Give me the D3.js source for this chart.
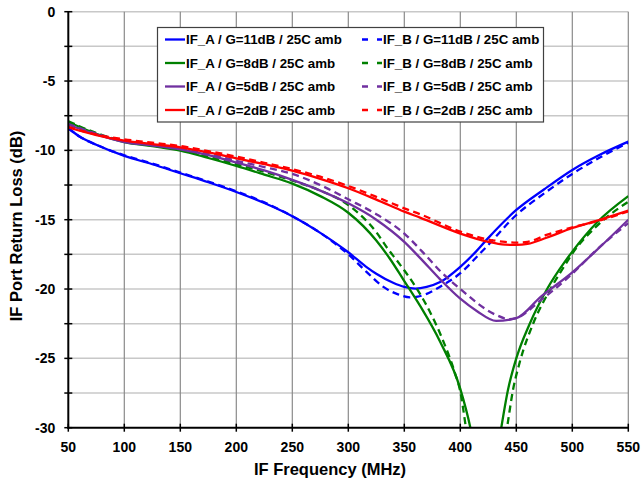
<!DOCTYPE html>
<html>
<head>
<meta charset="utf-8">
<script src="https://cdn.jsdelivr.net/npm/d3@7"></script>
<style>
  html, body { margin: 0; padding: 0; background: #ffffff; }
  svg { display: block; font-family: "Liberation Sans", Arial, sans-serif; }
</style>
</head>
<body>
<svg id="chart" width="641" height="485"></svg>
<script>
// ---------- data ----------
const xTicks = [50, 100, 150, 200, 250, 300, 350, 400, 450, 500, 550];
const yTickLabels = [0, -5, -10, -15, -20, -25, -30];
const yMinorTicks = [0, -2.5, -5, -7.5, -10, -12.5, -15, -17.5, -20, -22.5, -25, -27.5, -30];

const seriesNames = [
  "IF_A / G=11dB / 25C amb", "IF_B / G=11dB / 25C amb",
  "IF_A / G=8dB / 25C amb",  "IF_B / G=8dB / 25C amb",
  "IF_A / G=5dB / 25C amb",  "IF_B / G=5dB / 25C amb",
  "IF_A / G=2dB / 25C amb",  "IF_B / G=2dB / 25C amb"
];
const seriesColors = ["#0000FF", "#0000FF", "#008000", "#008000", "#7030A0", "#7030A0", "#FF0000", "#FF0000"];
const seriesDashed = [false, true, false, true, false, true, false, true];

const fA11 = [50, 60, 75, 100, 125, 150, 175, 200, 225, 250, 275, 300, 316, 325, 340, 350, 360, 370, 382, 400, 414, 424, 450, 475, 500, 525, 550];
const rA11 = [-8.4, -9.0, -9.6, -10.4, -11.0, -11.65, -12.3, -13.0, -13.8, -14.75, -15.95, -17.35, -18.4, -18.9, -19.55, -19.85, -19.97, -19.85, -19.5, -18.4, -17.3, -16.4, -14.3, -12.8, -11.41, -10.3, -9.37];

const fB11 = [50, 60, 75, 100, 125, 150, 175, 200, 225, 250, 275, 300, 316, 331, 345, 355, 362, 370, 382, 400, 418, 424, 450, 475, 500, 525, 550];
const rB11 = [-8.4, -9.0, -9.6, -10.35, -10.95, -11.6, -12.25, -12.95, -13.75, -14.75, -15.95, -17.5, -18.74, -19.83, -20.4, -20.6, -20.55, -20.35, -19.83, -18.86, -17.4, -16.9, -14.66, -13.1, -11.7, -10.5, -9.45];

const fA8 = [50, 75, 100, 125, 150, 175, 200, 225, 250, 275, 300, 325, 337, 349, 364, 382, 400, 409, 416, 423, 430, 436.6, 442.5, 450, 462, 477, 494.5, 500, 522, 550];
const rA8 = [-7.95, -8.8, -9.4, -9.7, -10.02, -10.55, -11.12, -11.75, -12.4, -13.3, -14.5, -16.5, -17.8, -19.3, -21.2, -23.8, -27.2, -30, -33, -36, -33.5, -30, -27.3, -25, -22.5, -20.07, -17.9, -17.3, -15.2, -13.3];

const fB8 = [50, 75, 100, 125, 150, 175, 200, 225, 248, 275, 300, 325, 336, 343, 360, 370, 385, 395, 400, 405, 412, 423, 433, 441.7, 447, 453, 465, 480, 496.4, 500, 522, 550];
const rB8 = [-7.9, -8.75, -9.35, -9.65, -9.95, -10.45, -11.0, -11.55, -12.13, -12.9, -13.94, -15.9, -17.18, -17.9, -19.83, -21.2, -23.8, -26.0, -27.4, -30, -34.5, -38, -34, -30, -27.3, -25.3, -22.5, -20.07, -17.9, -17.45, -15.45, -13.7];

const fA5 = [50, 75, 100, 125, 150, 175, 200, 225, 250, 275, 300, 325, 350, 364, 382, 400, 415, 432, 450, 472, 500, 522, 550];
const rA5 = [-8.15, -8.85, -9.4, -9.65, -9.93, -10.35, -10.88, -11.45, -12.13, -12.9, -13.82, -15.0, -16.6, -17.75, -19.3, -20.7, -21.6, -22.3, -22.1, -20.55, -18.8, -17.18, -15.0];

const fB5 = [50, 75, 100, 125, 150, 175, 200, 225, 248, 275, 300, 325, 350, 366, 382, 400, 432, 444, 450, 472, 500, 520, 550];
const rB5 = [-8.1, -8.8, -9.35, -9.6, -9.85, -10.25, -10.75, -11.2, -11.65, -12.5, -13.53, -14.6, -16.0, -17.3, -18.7, -20.0, -21.87, -22.18, -22.1, -20.8, -18.9, -17.3, -15.25];

const fA2 = [50, 75, 100, 125, 150, 175, 200, 225, 250, 275, 300, 325, 350, 364, 400, 424, 440, 450, 460, 477, 500, 525, 550];
const rA2 = [-8.35, -8.9, -9.3, -9.55, -9.78, -10.15, -10.57, -11.0, -11.46, -12.05, -12.73, -13.55, -14.42, -14.85, -16.0, -16.58, -16.8, -16.82, -16.75, -16.3, -15.6, -15.0, -14.35];

const fB2 = [50, 75, 100, 125, 150, 175, 200, 225, 250, 275, 300, 325, 350, 364, 400, 424, 440, 450, 460, 477, 500, 525, 550];
const rB2 = [-8.3, -8.85, -9.2, -9.45, -9.69, -10.05, -10.45, -10.9, -11.35, -11.9, -12.57, -13.35, -14.18, -14.6, -15.86, -16.41, -16.6, -16.65, -16.6, -16.1, -15.55, -15.05, -14.4];

const seriesFreq = [fA11, fB11, fA8, fB8, fA5, fB5, fA2, fB2];
const seriesRL = [rA11, rB11, rA8, rB8, rA5, rB5, rA2, rB2];

// ---------- layout ----------
const svg = d3.select("#chart");
const plot = { left: 68.3, right: 628.3, top: 11.7, bottom: 427.7 };

const x = d3.scaleLinear().domain([50, 550]).range([plot.left, plot.right]);
const y = d3.scaleLinear().domain([-30, 0]).range([plot.bottom, plot.top]);

svg.append("rect").attr("x", 0).attr("y", 0).attr("width", 641).attr("height", 485).attr("fill", "#fff");

// horizontal gridlines (light)
svg.append("g").selectAll("line").data(yMinorTicks.filter(d => d > -30)).join("line")
  .attr("x1", plot.left).attr("x2", plot.right)
  .attr("y1", d => y(d)).attr("y2", d => y(d))
  .attr("stroke", "#c8c8c8").attr("stroke-width", 1.5);

// vertical gridlines (darker)
svg.append("g").selectAll("line").data(xTicks.filter(d => d > 50)).join("line")
  .attr("x1", d => x(d)).attr("x2", d => x(d))
  .attr("y1", plot.top).attr("y2", plot.bottom)
  .attr("stroke", "#8a8a8a").attr("stroke-width", 1.2);

// clip
svg.append("defs").append("clipPath").attr("id", "clip")
  .append("rect").attr("x", plot.left).attr("y", plot.top)
  .attr("width", plot.right - plot.left).attr("height", plot.bottom - plot.top);

const line = d3.line().x(d => x(d[0])).y(d => y(d[1])).curve(d3.curveMonotoneX);

const gLines = svg.append("g").attr("clip-path", "url(#clip)");
seriesNames.forEach((name, i) => {
  const pts = seriesFreq[i].map((f, j) => [f, seriesRL[i][j]]);
  gLines.append("path").datum(pts)
    .attr("d", line)
    .attr("fill", "none")
    .attr("stroke", seriesColors[i])
    .attr("stroke-width", 2.3)
    .attr("stroke-dasharray", seriesDashed[i] ? "7,4.5" : null);
});

// Y axis
svg.append("line").attr("x1", plot.left).attr("x2", plot.left).attr("y1", plot.top).attr("y2", plot.bottom + 1)
  .attr("stroke", "#000").attr("stroke-width", 2);
svg.append("g").selectAll("line").data(yMinorTicks).join("line")
  .attr("x1", plot.left - 4).attr("x2", plot.left + 4)
  .attr("y1", d => y(d)).attr("y2", d => y(d))
  .attr("stroke", "#000").attr("stroke-width", 1.5);
svg.append("g").selectAll("text").data(yTickLabels).join("text")
  .attr("x", plot.left - 13).attr("y", d => y(d) + 5)
  .attr("text-anchor", "end")
  .attr("font-size", 14).attr("font-weight", "bold")
  .text(d => d === 0 ? "0" : "-" + Math.abs(d));

// X axis
svg.append("line").attr("x1", plot.left - 1).attr("x2", plot.right).attr("y1", plot.bottom).attr("y2", plot.bottom)
  .attr("stroke", "#000").attr("stroke-width", 2);
svg.append("g").selectAll("line").data(xTicks).join("line")
  .attr("x1", d => x(d)).attr("x2", d => x(d))
  .attr("y1", plot.bottom - 4).attr("y2", plot.bottom + 4)
  .attr("stroke", "#000").attr("stroke-width", 1.5);
svg.append("g").selectAll("text").data(xTicks).join("text")
  .attr("x", d => x(d)).attr("y", 452)
  .attr("text-anchor", "middle")
  .attr("font-size", 14).attr("font-weight", "bold")
  .text(d => d);

// Axis titles
svg.append("text").attr("x", 330).attr("y", 475)
  .attr("text-anchor", "middle").attr("font-size", 16.5).attr("font-weight", "bold")
  .text("IF Frequency (MHz)");
svg.append("text").attr("transform", "translate(22,226) rotate(-90)")
  .attr("text-anchor", "middle").attr("font-size", 16.5).attr("font-weight", "bold")
  .text("IF Port Return Loss (dB)");

// Legend
const lg = svg.append("g");
lg.append("rect").attr("x", 157.5).attr("y", 27.5).attr("width", 386).attr("height", 94.5)
  .attr("fill", "#fff").attr("stroke", "#404040").attr("stroke-width", 1.2);
const rowY = [39.5, 63, 86.5, 110];
seriesNames.forEach((name, i) => {
  const col = i % 2, row = Math.floor(i / 2);
  const x0 = col === 0 ? 165 : 362;
  const yy = rowY[row];
  lg.append("line").attr("x1", x0).attr("x2", x0 + 20).attr("y1", yy).attr("y2", yy)
    .attr("stroke", seriesColors[i]).attr("stroke-width", 2.3)
    .attr("stroke-dasharray", seriesDashed[i] ? "6,9" : null);
  lg.append("text").attr("x", x0 + 21).attr("y", yy + 4.8)
    .attr("font-size", 13.3).attr("font-weight", "bold")
    .text(name);
});
</script>
</body>
</html>
